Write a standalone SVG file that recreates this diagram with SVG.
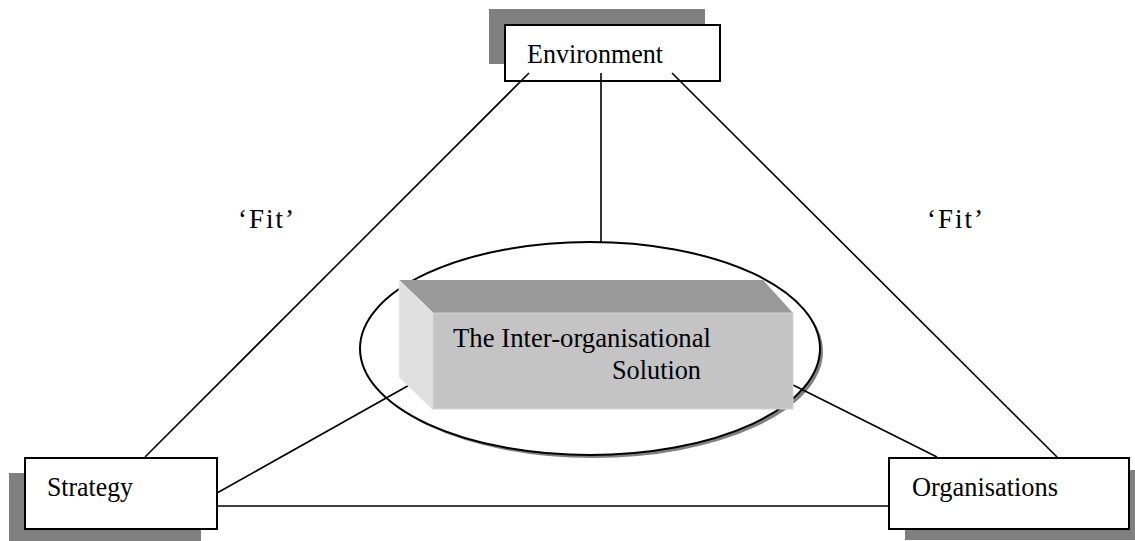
<svg xmlns="http://www.w3.org/2000/svg" width="1135" height="541" viewBox="0 0 1135 541">
<style>
.shadow{fill:#808080}
.box{fill:#fff;stroke:#000;stroke-width:2}
.lbl{font-family:"Liberation Serif","Times New Roman",serif;font-size:27px;fill:#000}
.fit{font-family:"Liberation Serif","Times New Roman",serif;font-size:27px;fill:#000}
.conn{stroke:#000;stroke-width:1.6;fill:none}
</style>
<rect width="1135" height="541" fill="#fff"/>
<g id="environment">
<rect class="shadow" x="489" y="9" width="216" height="55"/>
<rect class="box" x="505" y="25" width="215" height="56"/>
<text class="lbl" x="527" y="63" textLength="136" lengthAdjust="spacingAndGlyphs">Environment</text>
</g>
<g id="strategy">
<rect class="shadow" x="9" y="473" width="192" height="68"/>
<rect class="box" x="25" y="458" width="192" height="71"/>
<text class="lbl" x="47" y="496" textLength="86" lengthAdjust="spacingAndGlyphs">Strategy</text>
</g>
<g id="organisations">
<rect class="shadow" x="905" y="470" width="230" height="70"/>
<rect class="box" x="889" y="458" width="240" height="71"/>
<text class="lbl" x="912" y="496" textLength="146" lengthAdjust="spacingAndGlyphs">Organisations</text>
</g>
<g id="ellipse">
<ellipse cx="593" cy="351.5" rx="230" ry="106.5" fill="#808080"/>
<ellipse cx="590" cy="348.5" rx="230" ry="106.5" fill="#fff" stroke="#000" stroke-width="2"/>
</g>
<g id="connectors">
<line class="conn" x1="529" y1="73" x2="145" y2="457"/>
<line class="conn" x1="601" y1="73" x2="601" y2="242"/>
<line class="conn" x1="672" y1="73" x2="1057" y2="457"/>
<line class="conn" x1="217" y1="506" x2="888" y2="506"/>
<line class="conn" x1="217" y1="493" x2="420" y2="379"/>
<line class="conn" x1="793" y1="385" x2="937" y2="457"/>
</g>
<g id="solution">
<polygon points="399,280 763,280 793,313 433,313" fill="#999999"/>
<polygon points="399,280 433,313 433,410 399,377" fill="#e0e0e0" stroke="#ececec" stroke-width="1"/>
<rect x="433" y="313" width="360" height="96" fill="#c4c4c4" stroke="#d4d4d4" stroke-width="1"/>
<text class="lbl" x="453" y="347" textLength="258" lengthAdjust="spacingAndGlyphs">The Inter-organisational</text>
<text class="lbl" x="612" y="379" textLength="89" lengthAdjust="spacingAndGlyphs">Solution</text>
</g>
<g id="fit-left">
<text class="fit" x="238" y="228" textLength="56" lengthAdjust="spacing">‘Fit’</text>
</g>
<g id="fit-right">
<text class="fit" x="927" y="228" textLength="56" lengthAdjust="spacing">‘Fit’</text>
</g>
</svg>
